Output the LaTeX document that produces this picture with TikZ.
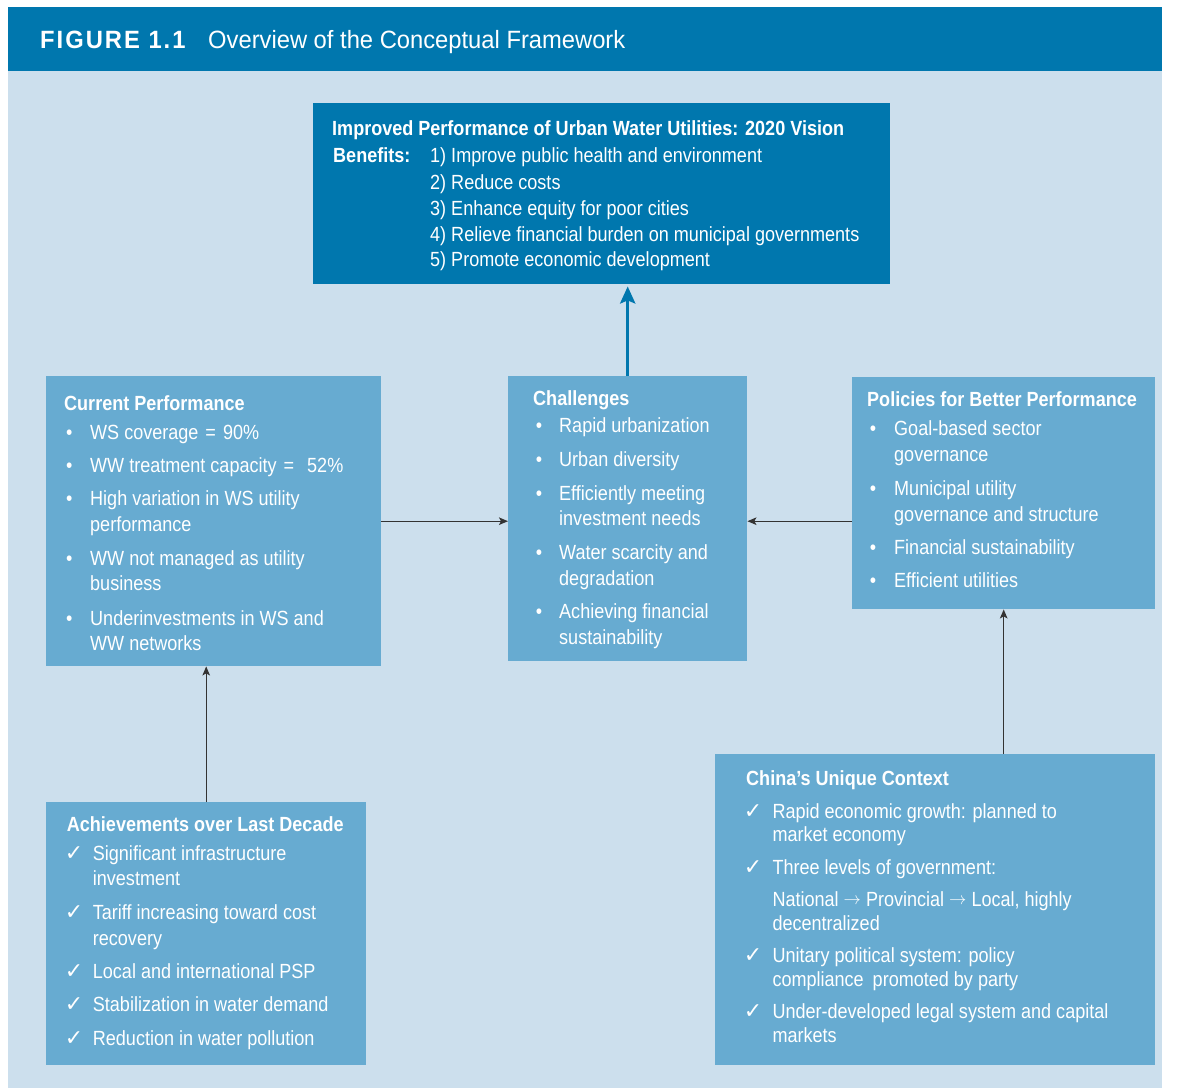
\documentclass[tikz,border=0pt]{standalone}
\usepackage{graphicx}
\usepackage{fontspec}
\setmainfont{Liberation Sans}[FakeStretch=0.88]
\newfontfamily\headfont{Liberation Sans}[FakeStretch=0.95]
\newfontfamily\headfontsp{Liberation Sans}[FakeStretch=0.95,LetterSpace=8]
\newfontfamily\tickfont{DejaVu Sans}
\usetikzlibrary{arrows.meta}

\definecolor{deepblue}{HTML}{0077AE}
\definecolor{paleblue}{HTML}{CCDFED}
\definecolor{midblue}{HTML}{67ABD1}
\definecolor{arrowgray}{HTML}{333333}

% one line of text, a bold heading, a bullet, a tick
\newcommand\lineat[4]{\node[txt] (#1) at (#2,#3) {#4};}
\newcommand\headat[4]{\node[hd] (#1) at (#2,#3) {#4};}
\newcommand\dotat[3]{\node[dotmark] (#1) at (#2,#3) {•};}
\newcommand\tickat[3]{\node[tickmark] (#1) at (#2,#3) {✓};}
% thin inline arrow between the levels of government
\newcommand\govarrow{{\fontsize{17}{18}\selectfont\raisebox{1.5pt}{$\rightarrow$}}}

\begin{document}
\begin{tikzpicture}[x=1pt,y=-1pt,
  panel/.style={rectangle, draw=none, inner sep=0, anchor=north west},
  txt/.style={anchor=base west, inner sep=0, text=white, font=\fontsize{20.5}{24}\selectfont},
  hd/.style={anchor=base west, inner sep=0, text=white, font=\fontsize{20.5}{24}\selectfont\bfseries},
  dotmark/.style={anchor=base, inner sep=0, text=white, font=\fontsize{20.5}{24}\selectfont},
  tickmark/.style={anchor=base, inner sep=0, text=white, font=\tickfont\fontsize{22}{24}\selectfont},
  conn/.style={draw=arrowgray, line width=1.4pt, -{Stealth[length=9pt,width=7.5pt,inset=2pt]}},
  bluearr/.style={draw=deepblue, line width=3.5pt, shorten >=2pt, -{Stealth[length=17pt,width=15pt,inset=3pt]}}]

\useasboundingbox (0,0) rectangle (1189,1091);
\fill[white] (0,0) rectangle (1189,1091);
\fill[paleblue] (8,71) rectangle (1162,1088);

% title band
\node[panel, fill=deepblue, minimum width=1154, minimum height=64] (band) at (8,7) {};
\node[anchor=base west, inner sep=0, text=white, font=\headfontsp\bfseries\fontsize{25}{30}\selectfont] (fignum) at (40,49) {FIGURE 1.1};
\node[anchor=base west, inner sep=0, text=white, font=\headfont\fontsize{25}{30}\selectfont] (figtitle) at (208,49) {Overview of the Conceptual Framework};

% panels
\node[panel, fill=deepblue, minimum width=577, minimum height=181] (vision) at (313,103) {};
\node[panel, fill=midblue, minimum width=335, minimum height=290] (cur) at (46,376) {};
\node[panel, fill=midblue, minimum width=239, minimum height=285] (chal) at (508,376) {};
\node[panel, fill=midblue, minimum width=303, minimum height=232] (pol) at (852,377) {};
\node[panel, fill=midblue, minimum width=320, minimum height=263] (ach) at (46,802) {};
\node[panel, fill=midblue, minimum width=440, minimum height=311] (ctx) at (715,754) {};

% 2020 vision
\headat{vtitle}{332}{135.5}{Improved Performance of Urban Water Utilities: 2020 Vision}
\headat{vben}{333}{163}{Benefits:}
\lineat{vone}{430}{163}{1) Improve public health and environment}
\lineat{vtwo}{430}{189.5}{2) Reduce costs}
\lineat{vthree}{430}{215.5}{3) Enhance equity for poor cities}
\lineat{vfour}{430}{241.5}{4) Relieve financial burden on municipal governments}
\lineat{vfive}{430}{267}{5) Promote economic development}

% current performance
\headat{curtitle}{64}{410}{Current Performance}
\dotat{cbA}{69.3}{439}
\dotat{cbB}{69.3}{472.7}
\dotat{cbC}{69.3}{505.7}
\dotat{cbD}{69.3}{565}
\dotat{cbE}{69.3}{625}
\lineat{ctA}{90}{439}{WS coverage \hspace{2pt}= \hspace{2pt}90\%}
\lineat{ctB}{90}{472.7}{WW treatment capacity \hspace{2pt}= \hspace{8pt}52\%}
\lineat{ctC}{90}{505.7}{High variation in WS utility}
\lineat{ctCb}{90}{531.7}{performance}
\lineat{ctD}{90}{565}{WW not managed as utility}
\lineat{ctDb}{90}{590.7}{business}
\lineat{ctE}{90}{625}{Underinvestments in WS and}
\lineat{ctEb}{90}{650}{WW networks}

% challenges
\headat{chtitle}{533}{405}{Challenges}
\dotat{hbA}{539}{432.7}
\dotat{hbB}{539}{466.7}
\dotat{hbC}{539}{500}
\dotat{hbD}{539}{559}
\dotat{hbE}{539}{618.3}
\lineat{htA}{559}{432.7}{Rapid urbanization}
\lineat{htB}{559}{466.7}{Urban diversity}
\lineat{htC}{559}{500}{Efficiently meeting}
\lineat{htCb}{559}{525.7}{investment needs}
\lineat{htD}{559}{559}{Water scarcity and}
\lineat{htDb}{559}{585}{degradation}
\lineat{htE}{559}{618.3}{Achieving financial}
\lineat{htEb}{559}{644}{sustainability}

% policies
\headat{poltitle}{867}{406.7}{Policies for Better Performance}
\dotat{pbA}{873}{435.7}
\dotat{pbB}{873}{495}
\dotat{pbC}{873}{554.3}
\dotat{pbD}{873}{587.3}
\lineat{ptA}{894}{435.7}{Goal-based sector}
\lineat{ptAb}{894}{461.7}{governance}
\lineat{ptB}{894}{495}{Municipal utility}
\lineat{ptBb}{894}{521}{governance and structure}
\lineat{ptC}{894}{554.3}{Financial sustainability}
\lineat{ptD}{894}{587.3}{Efficient utilities}

% achievements
\headat{achtitle}{66.7}{831.7}{Achievements over Last Decade}
\tickat{akA}{74}{860}
\tickat{akB}{74}{919.3}
\tickat{akC}{74}{978.3}
\tickat{akD}{74}{1011.7}
\tickat{akE}{74}{1045}
\lineat{atA}{92.7}{860}{Significant infrastructure}
\lineat{atAb}{92.7}{885.7}{investment}
\lineat{atB}{92.7}{919.3}{Tariff increasing toward cost}
\lineat{atBb}{92.7}{945}{recovery}
\lineat{atC}{92.7}{978.3}{Local and international PSP}
\lineat{atD}{92.7}{1011.7}{Stabilization in water demand}
\lineat{atE}{92.7}{1045}{Reduction in water pollution}

% China's context
\headat{ctxtitle}{746}{785}{China’s Unique Context}
\tickat{xkA}{753}{818.3}
\tickat{xkB}{753}{874}
\tickat{xkC}{753}{962.3}
\tickat{xkD}{753}{1018.3}
\lineat{xtA}{772.3}{818.3}{Rapid economic growth: planned to}
\lineat{xtAb}{772.3}{841.7}{market economy}
\lineat{xtB}{772.3}{874}{Three levels of government:}
\lineat{xtBb}{772.3}{906}{National \govarrow{} Provincial \govarrow{} Local, highly}
\lineat{xtBc}{772.3}{930}{decentralized}
\lineat{xtC}{772.3}{962.3}{Unitary political system: policy}
\lineat{xtCb}{772.3}{986.7}{compliance \hspace{4pt}promoted by party}
\lineat{xtD}{772.3}{1018.3}{Under-developed legal system and capital}
\lineat{xtDb}{772.3}{1042.3}{markets}

% connectors
\draw[bluearr] (chal.north) -- (chal.north |- vision.south);
\draw[conn] (cur.east) -- (cur.east -| chal.west);
\draw[conn] (pol.west |- cur.east) -- (cur.east -| chal.east);
\draw[conn] (ach.north) -- (ach.north |- cur.south);
\draw[conn] (pol.south |- ctx.north) -- (pol.south);
\end{tikzpicture}
\end{document}
